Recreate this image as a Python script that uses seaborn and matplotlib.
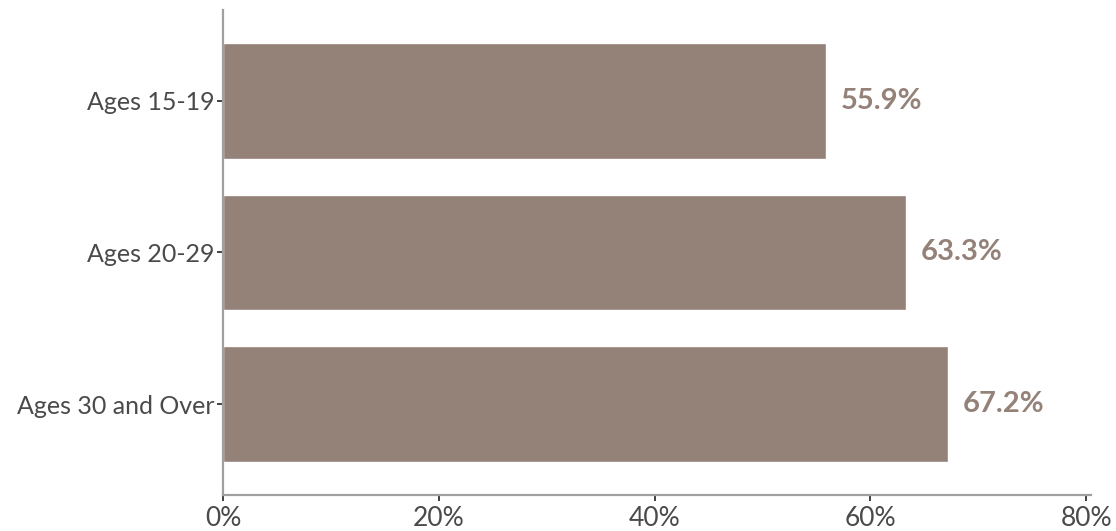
import matplotlib
matplotlib.use("Agg")
import matplotlib.pyplot as plt
import seaborn as sns
import pandas as pd

categories = ["Ages 15-19", "Ages 20-29", "Ages 30 and Over"]
values = [55.9, 63.3, 67.2]
xticks = [0, 20, 40, 60, 80]
xtick_labels = ["0%", "20%", "40%", "60%", "80%"]

bar_color = "#948279"
text_color = "#4a4a4a"
spine_color = "#a0a0a0"

sns.set_theme(style="white")
plt.rcParams["font.family"] = ["Lato", "DejaVu Sans"]

df = pd.DataFrame({"category": categories, "value": values})

fig = plt.figure(figsize=(11.16, 5.31), dpi=100)
ax = fig.add_axes([0.1998, 0.0678, 0.7778, 0.9134])
sns.barplot(data=df, x="value", y="category", color=bar_color, saturation=1,
            width=0.76, ax=ax, orient="h")

ax.set_xlim(0, 80.45)
ax.set_ylim(2.6, -0.6)
ax.set_xticks(xticks)
ax.set_xticklabels(xtick_labels, fontsize=19, color=text_color, fontweight="normal")
ax.set_yticks(range(len(categories)))
ax.set_yticklabels(categories, fontsize=18, color=text_color, fontweight="normal")
ax.set_xlabel("")
ax.set_ylabel("")

for s in ["top", "right"]:
    ax.spines[s].set_visible(False)
for s in ["left", "bottom"]:
    ax.spines[s].set_color(spine_color)
    ax.spines[s].set_linewidth(1.6)

ax.tick_params(axis="both", which="both", length=4, width=1.3, color="#333333",
               direction="out", pad=2, bottom=True, left=True)
ax.tick_params(axis="x", pad=4)

for i, v in enumerate(values):
    ax.text(v + 1.4, i, f"{v:.1f}%", va="center", ha="left", fontsize=21,
            fontweight="bold", color=bar_color)

fig.savefig("out.png", dpi=100)
